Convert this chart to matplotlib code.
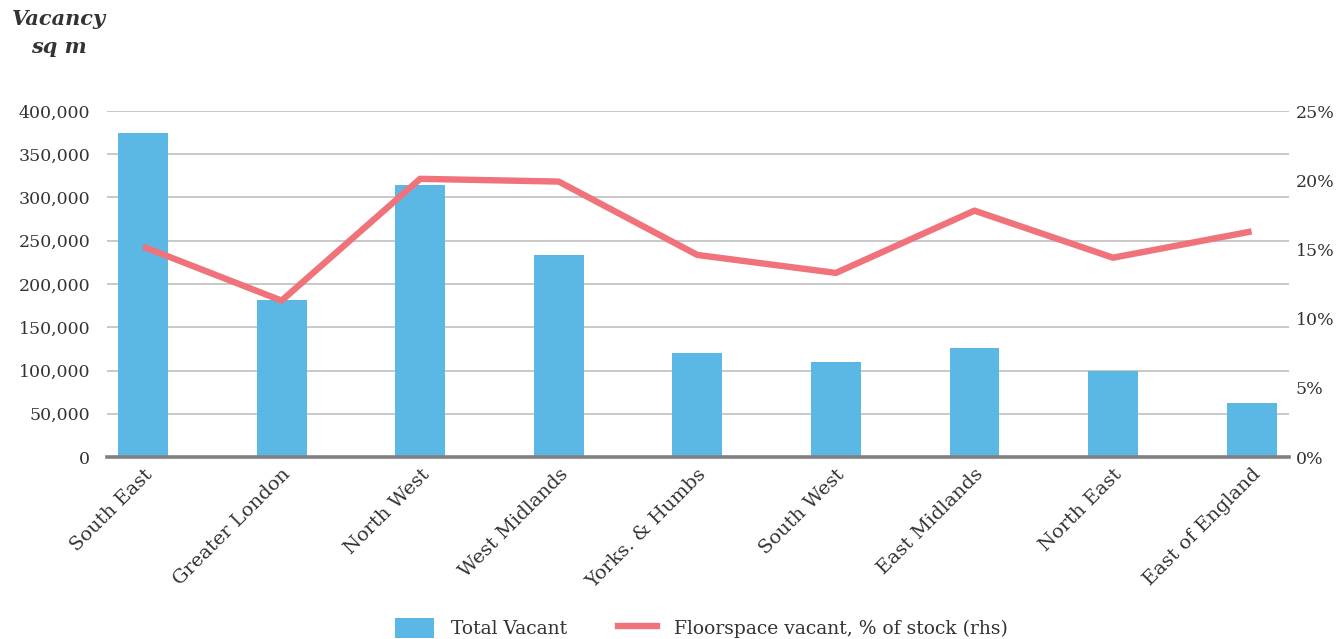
import matplotlib
matplotlib.use("Agg")
import matplotlib.pyplot as plt
from matplotlib.ticker import FuncFormatter
from matplotlib.patches import Patch
from matplotlib.lines import Line2D

regions = ["South East", "Greater London", "North West", "West Midlands",
           "Yorks. & Humbs", "South West", "East Midlands", "North East",
           "East of England"]
total_vacant = [375000, 181000, 315000, 233000, 120000, 110000, 126000, 100000, 63000]
pct_vacant = [15.2, 11.3, 20.1, 19.9, 14.6, 13.3, 17.8, 14.4, 16.3]
left_ticks = [0, 50000, 100000, 150000, 200000, 250000, 300000, 350000, 400000]
right_ticks = [0, 5, 10, 15, 20, 25]

FONT = "DejaVu Serif"
TXT = "#333333"
BAR = "#5BB8E4"
LINE = "#F0737C"

fig = plt.figure(figsize=(13.36, 6.39), dpi=100)
ax = fig.add_axes([107/1336, 1-457/639, (1289-107)/1336, (457-111)/639])
x = list(range(len(regions)))
ax.bar(x, total_vacant, width=0.36, color=BAR, zorder=2)
ax.set_ylim(0, 400000)
ax.set_xlim(-0.26, 8.27)
ax.set_yticks(left_ticks)
ax.yaxis.set_major_formatter(FuncFormatter(lambda v, p: f"{int(v):,}"))
ax.grid(axis="y", color="#c4c4c4", linewidth=1.3, zorder=0)
ax.set_axisbelow(True)
for s in ["top", "right", "left"]:
    ax.spines[s].set_visible(False)
ax.spines["bottom"].set_color("#808080")
ax.spines["bottom"].set_linewidth(2.6)
ax.tick_params(axis="y", length=0, pad=12, labelsize=12.5, labelcolor=TXT)
ax.tick_params(axis="x", length=0, pad=6, labelsize=14, labelcolor=TXT)
ax.set_xticks(x)
ax.set_xticklabels(regions, rotation=45, ha="right", rotation_mode="anchor", fontfamily=FONT)
for t in ax.get_yticklabels():
    t.set_fontfamily(FONT)

ax2 = ax.twinx()
ax2.plot(x, [p/100 for p in pct_vacant], color=LINE, linewidth=4.6, solid_capstyle="butt", zorder=3)
ax2.set_ylim(0, 0.25)
ax2.set_yticks([t/100 for t in right_ticks])
ax2.yaxis.set_major_formatter(FuncFormatter(lambda v, p: f"{v*100:.0f}%"))
ax2.tick_params(axis="y", length=0, pad=5, labelsize=12.5, labelcolor=TXT)
for t in ax2.get_yticklabels():
    t.set_fontfamily(FONT)
for s in ax2.spines.values():
    s.set_visible(False)

fig.text(59/1336, 1-19/639, "Vacancy", ha="center", va="center", fontsize=15,
         fontweight="bold", fontstyle="italic", fontfamily=FONT, color="#333333")
fig.text(59/1336, 1-47/639, "sq m", ha="center", va="center", fontsize=15,
         fontweight="bold", fontstyle="italic", fontfamily=FONT, color="#333333")

handles = [Patch(facecolor=BAR, edgecolor="none"),
           Line2D([0], [0], color=LINE, linewidth=4.6)]
fig.legend(handles, ["Total Vacant", "Floorspace vacant, % of stock (rhs)"],
           loc="center", bbox_to_anchor=(0.525, 1-628/639), ncol=2, frameon=False,
           prop={"family": FONT, "size": 13.5}, labelcolor=TXT,
           handlelength=2.1, handleheight=1.3, columnspacing=2.7, handletextpad=0.9)

fig.savefig("out.png", dpi=100)
